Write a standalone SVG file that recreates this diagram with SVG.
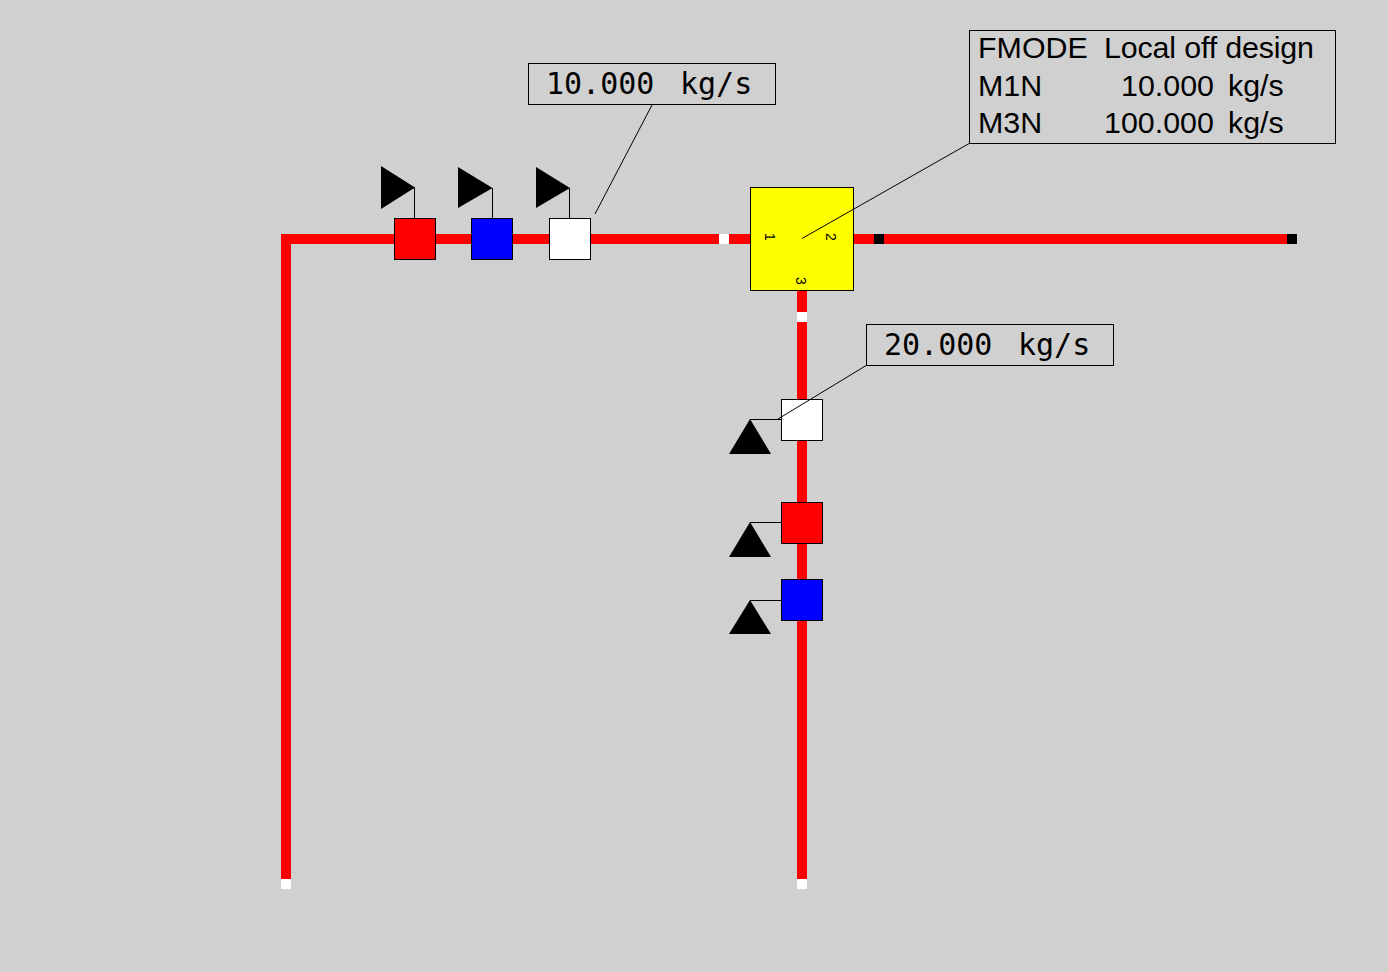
<svg xmlns="http://www.w3.org/2000/svg" width="1388" height="972" viewBox="0 0 1388 972">
<style>
.pipe{fill:none;stroke:#f00;stroke-width:10}
.box{stroke:#000;stroke-width:1}
.lead{fill:none;stroke:#000;stroke-width:1}
.tri{fill:#000}
.mono{font-family:"DejaVu Sans Mono",monospace;font-size:30px;fill:#000}
.sans{font-family:"Liberation Sans",Arial,sans-serif;font-size:30.4px;fill:#000}
.port{font-family:"Liberation Sans",Arial,sans-serif;font-size:14px;fill:#000;text-anchor:middle}
</style>
<rect width="1388" height="972" fill="#d0d0d0"/>
<g id="connectors">
<path class="pipe" d="M286 889V239H750"/>
<path class="pipe" d="M853 239H1297"/>
<path class="pipe" d="M802 290V889"/>
<rect x="719" y="234" width="10" height="10" fill="#fff"/>
<rect x="874" y="234" width="10" height="10" fill="#000"/>
<rect x="1287" y="234" width="10" height="10" fill="#000"/>
<rect x="797" y="312" width="10" height="10" fill="#fff"/>
<rect x="281" y="879" width="10" height="10" fill="#fff"/>
<rect x="797" y="879" width="10" height="10" fill="#fff"/>
</g>
<g id="mixer">
<rect class="box" x="750.500" y="187.500" width="103" height="103" fill="#ff0"/>
<text class="port" transform="translate(765 237) rotate(90)">1</text>
<text class="port" transform="translate(826 237) rotate(90)">2</text>
<text class="port" transform="translate(796 281) rotate(90)">3</text>
</g>
<g id="valve-top-red">
<path class="lead" d="M414.500 187V218"/>
<polygon class="tri" points="381,166 415,187.500 381,209"/>
<rect class="box" x="394.500" y="218.500" width="41" height="41" fill="#f00"/>
</g>
<g id="valve-top-blue">
<path class="lead" d="M492.500 188V218"/>
<polygon class="tri" points="458,167 492.500,188 458,208"/>
<rect class="box" x="471.500" y="218.500" width="41" height="41" fill="#00f"/>
</g>
<g id="valve-top-white">
<path class="lead" d="M569.500 188V218"/>
<polygon class="tri" points="536,167 570,188 536,208"/>
<rect class="box" x="549.500" y="218.500" width="41" height="41" fill="#fff"/>
</g>
<g id="valve-right-white">
<path class="lead" d="M750 419.500H781"/>
<polygon class="tri" points="750,419 771,454 729,454"/>
<rect class="box" x="781.500" y="399.500" width="41" height="41" fill="#fff"/>
</g>
<g id="valve-right-red">
<path class="lead" d="M750 522.500H781"/>
<polygon class="tri" points="750,522 771,557 729,557"/>
<rect class="box" x="781.500" y="502.500" width="41" height="41" fill="#f00"/>
</g>
<g id="valve-right-blue">
<path class="lead" d="M750 600.500H781"/>
<polygon class="tri" points="750,600 771,634 729,634"/>
<rect class="box" x="781.500" y="579.500" width="41" height="41" fill="#00f"/>
</g>
<g id="leaders">
<path class="lead" d="M802 238.500L970 143"/>
<path class="lead" d="M652 105L595 214"/>
<path class="lead" d="M867 365L778 419"/>
</g>
<g id="label-top">
<rect class="box" x="528.500" y="63.500" width="247" height="41" fill="#d0d0d0"/>
<text class="mono" x="546" y="94">10.000<tspan x="680">kg/s</tspan></text>
</g>
<g id="label-right">
<rect class="box" x="866.500" y="324.500" width="247" height="41" fill="#d0d0d0"/>
<text class="mono" x="884" y="355">20.000<tspan x="1018">kg/s</tspan></text>
</g>
<g id="label-table">
<rect class="box" x="969.500" y="30.500" width="366" height="113" fill="#d0d0d0"/>
<text class="sans" x="978" y="57.500">FMODE</text>
<text class="sans" x="1104" y="57.500" textLength="210">Local off design</text>
<text class="sans" x="978" y="95.500">M1N</text>
<text class="sans" x="1121" y="95.500">10.000</text>
<text class="sans" x="1228" y="95.500">kg/s</text>
<text class="sans" x="978" y="132.500">M3N</text>
<text class="sans" x="1104" y="132.500">100.000</text>
<text class="sans" x="1228" y="132.500">kg/s</text>
</g>
</svg>
